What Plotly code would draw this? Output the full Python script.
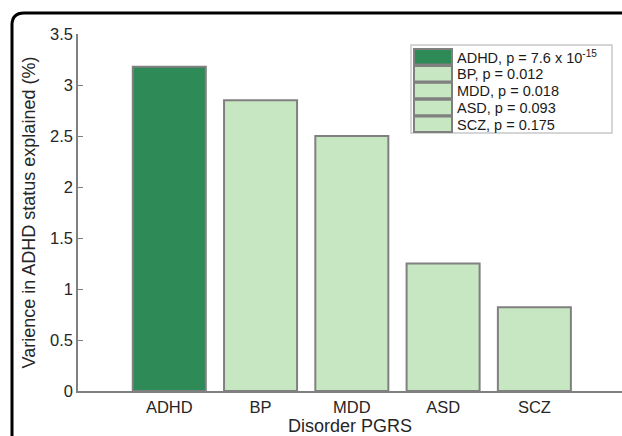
import plotly.graph_objects as go

# data
disorders = ["ADHD", "BP", "MDD", "ASD", "SCZ"]
variance = [3.18, 2.85, 2.50, 1.25, 0.82]
legend_labels = ["ADHD, p = 7.6 x 10<sup>-15</sup>", "BP, p = 0.012",
                 "MDD, p = 0.018", "ASD, p = 0.093", "SCZ, p = 0.175"]
y_ticks = [0, 0.5, 1, 1.5, 2, 2.5, 3, 3.5]

dark_green = "#2e8b57"
light_green = "#c7e6c2"
bar_colors = [dark_green] + [light_green] * 4

W, H = 622, 436
L, R, T, B = 78, 0, 34, 45
pw, ph = W - L - R, H - T - B

def px(x):
    return (x - L) / pw

def py(y):
    return (H - B - y) / ph

fig = go.Figure()
fig.add_trace(go.Bar(
    x=disorders, y=variance, width=0.8,
    marker=dict(color=bar_colors, line=dict(color="#808080", width=2)),
    showlegend=False,
))

shapes = []
annotations = []

# hand-made legend box, same look as the matlab one
shapes.append(dict(type="rect", xref="paper", yref="paper",
                   x0=px(411), x1=px(612), y0=py(133), y1=py(45),
                   line=dict(color="#c8c8c8", width=1.5), fillcolor="white"))
for i, lab in enumerate(legend_labels):
    top = 49 + 16.9 * i
    shapes.append(dict(type="rect", xref="paper", yref="paper",
                       x0=px(414), x1=px(452), y0=py(top + 15.5), y1=py(top),
                       line=dict(color="#808080", width=2), fillcolor=bar_colors[i]))
    annotations.append(dict(xref="paper", yref="paper", x=px(455), y=py(top + 8),
                            text=lab, showarrow=False, xanchor="left", yanchor="middle",
                            font=dict(size=14.5, color="#1a1a1a")))

# rounded black frame (cut off on the right and bottom)
x0, y0, r = 12, 13, 12
path = (f"M {px(x0)},{py(H + 10)} L {px(x0)},{py(y0 + r)} "
        f"Q {px(x0)},{py(y0)} {px(x0 + r)},{py(y0)} L {px(W + 10)},{py(y0)}")
shapes.append(dict(type="path", xref="paper", yref="paper", path=path,
                   line=dict(color="black", width=3)))

fig.update_layout(
    width=W, height=H,
    margin=dict(l=L, r=R, t=T, b=B),
    plot_bgcolor="white", paper_bgcolor="white",
    font=dict(family="Liberation Sans, Arial, sans-serif", color="#262626"),
    bargap=0.2,
    xaxis=dict(
        range=[-1, 4.96], showline=True, linecolor="#808080", linewidth=1.5,
        ticks="", tickfont=dict(size=16.5),
        title=dict(text="Disorder PGRS", font=dict(size=18), standoff=0),
    ),
    yaxis=dict(
        range=[0, 3.5], tickvals=y_ticks, ticktext=[f"{v:g}" for v in y_ticks],
        showline=True, linecolor="#808080", linewidth=1.5,
        ticks="inside", ticklen=5, tickcolor="#808080",
        showgrid=False, zeroline=False, tickfont=dict(size=16.5),
        title=dict(text="Varience in ADHD status explained (%)", font=dict(size=18), standoff=10),
    ),
    shapes=shapes,
    annotations=annotations,
)

# drop the default body margin so the figure sits at the page corner
fig.write_html("out.html", config={"displayModeBar": False},
               post_script="document.body.style.margin='0';")
